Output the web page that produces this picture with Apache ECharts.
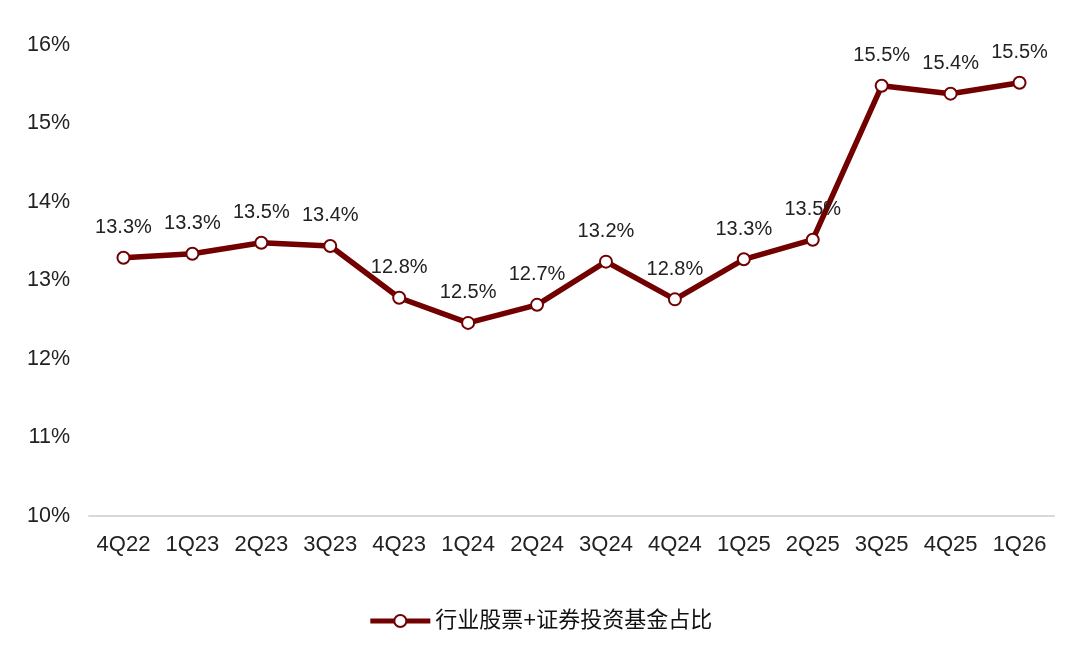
<!DOCTYPE html>
<html lang="zh">
  <head>
    <meta charset="utf-8" />
    <title>行业股票+证券投资基金占比</title>
    <script src="https://cdn.jsdelivr.net/npm/echarts@6/dist/echarts.min.js"></script>
    <style>
      body { margin: 0; background: #fff; }
      #main { width: 1080px; height: 648px; }
    </style>
  </head>
  <body>
    <div id="main"></div>
    <script type="text/javascript">
      const quarters = ['4Q22', '1Q23', '2Q23', '3Q23', '4Q23', '1Q24', '2Q24',
        '3Q24', '4Q24', '1Q25', '2Q25', '3Q25', '4Q25', '1Q26'];
      const shareValues = [13.29, 13.34, 13.48, 13.44, 12.78, 12.46, 12.69,
        13.24, 12.76, 13.27, 13.52, 15.48, 15.38, 15.52];
      const seriesName = '行业股票+证券投资基金占比';

      const font = 'Arial, "Liberation Sans", "Noto Sans CJK SC", sans-serif';
      const myChart = echarts.init(document.getElementById('main'));

      const option = {
        animation: false,
        grid: { left: 89, right: 26, top: 45, bottom: 132 },
        legend: {
          bottom: 11,
          left: 'center',
          itemWidth: 60,
          itemHeight: 15,
          itemGap: 6,
          lineStyle: { width: 5 },
          textStyle: { fontSize: 22, color: '#111', fontFamily: font },
          data: [seriesName]
        },
        xAxis: {
          type: 'category',
          data: quarters,
          boundaryGap: true,
          axisLine: { show: true, lineStyle: { color: '#d9d9d9', width: 2 } },
          axisTick: { show: false },
          axisLabel: {
            interval: 0, hideOverlap: false,
            fontSize: 22, color: '#222', margin: 18, fontFamily: font
          }
        },
        yAxis: {
          type: 'value',
          min: 10,
          max: 16,
          interval: 1,
          splitLine: { show: false },
          axisLine: { show: false },
          axisTick: { show: false },
          axisLabel: {
            fontSize: 21.5, color: '#222', margin: 19, fontFamily: font,
            formatter: v => v + '%'
          }
        },
        series: [{
          name: seriesName,
          type: 'line',
          data: shareValues,
          symbol: 'circle',
          symbolSize: 12,
          lineStyle: { color: '#720000', width: 5.5 },
          itemStyle: { color: '#ffffff', borderColor: '#720000', borderWidth: 2 },
          label: {
            show: true,
            position: 'top',
            distance: 13,
            fontSize: 20,
            color: '#222',
            fontFamily: font,
            formatter: p => p.value.toFixed(1) + '%'
          }
        }]
      };
      myChart.setOption(option);
    </script>
  </body>
</html>
